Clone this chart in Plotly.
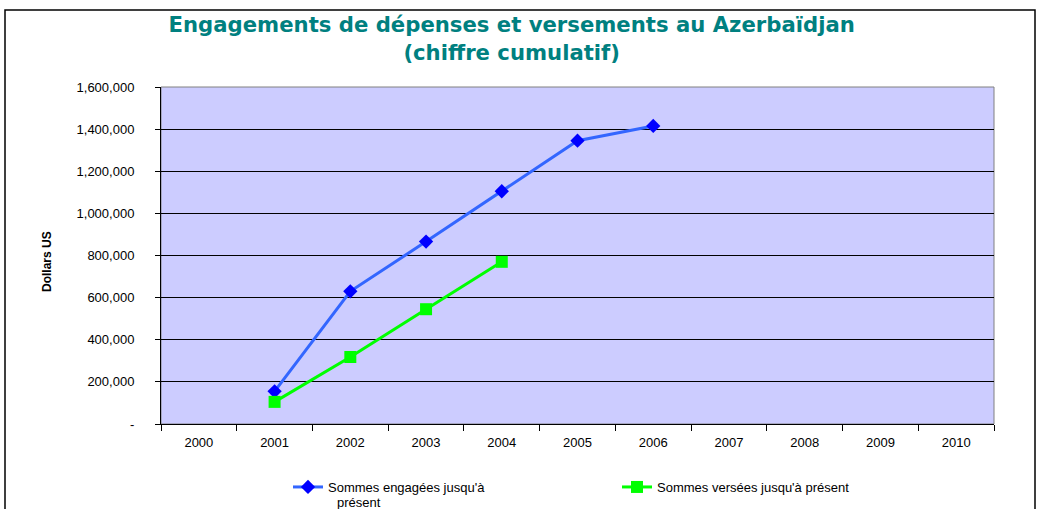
import plotly.graph_objects as go

years = ["2000", "2001", "2002", "2003", "2004", "2005", "2006", "2007", "2008", "2009", "2010"]
engaged_years = ["2001", "2002", "2003", "2004", "2005", "2006"]
engaged_values = [155000, 630000, 866000, 1105000, 1345000, 1415000]
paid_years = ["2001", "2002", "2003", "2004"]
paid_values = [105000, 318000, 545000, 770000]
y_tickvals = [0, 200000, 400000, 600000, 800000, 1000000, 1200000, 1400000, 1600000]
y_ticktext = ["-", "200,000", "400,000", "600,000", "800,000", "1,000,000", "1,200,000", "1,400,000", "1,600,000"]

W, H = 1040, 509
L, R, T, B = 161, 46, 87, 85
pw, ph = W - L - R, H - T - B

def px_x(x):
    return (x - L) / pw

def px_y(y):
    return (H - B - y) / ph

fig = go.Figure()
fig.add_trace(go.Scatter(
    x=engaged_years, y=engaged_values, mode="lines+markers",
    name="Sommes engagées jusqu'à",
    line=dict(color="#3366FF", width=3),
    marker=dict(symbol="diamond", size=11, color="#0000FF"),
    legend="legend",
))
fig.add_trace(go.Scatter(
    x=paid_years, y=paid_values, mode="lines+markers",
    name="Sommes versées jusqu'à présent",
    line=dict(color="#00FF00", width=3),
    marker=dict(symbol="square", size=12, color="#00FF00"),
    legend="legend2",
))

font_family = "Liberation Sans, Arial"
fig.update_layout(
    width=W, height=H,
    margin=dict(l=L, r=R, t=T, b=B, autoexpand=False),
    paper_bgcolor="white",
    plot_bgcolor="#CCCCFF",
    font=dict(family=font_family, size=13, color="black"),
    title=dict(
        text="<b>Engagements de dépenses et versements au Azerbaïdjan<br>(chiffre cumulatif)</b>",
        x=0.492, xanchor="center", yref="container", y=1 - 32 / H, yanchor="middle",
        font=dict(family="DejaVu Sans", size=21.2, color="#008080"),
    ),
    xaxis=dict(
        type="category", categoryorder="array", categoryarray=years,
        range=[-0.5, 10.5], tickson="boundaries", ticks="outside", ticklen=6,
        tickcolor="black", showline=True, linecolor="black", linewidth=1,
        showgrid=False, tickfont=dict(size=13), ticklabelstandoff=6,
        automargin=False,
    ),
    yaxis=dict(
        range=[0, 1600000], tickvals=y_tickvals, ticktext=y_ticktext,
        ticks="outside", ticklen=5, tickcolor="black",
        showline=True, linecolor="black", linewidth=1,
        showgrid=True, gridcolor="black", gridwidth=1, zeroline=False,
        tickfont=dict(size=13), ticklabelstandoff=18, automargin=False,
    ),
    legend=dict(
        orientation="h", x=px_x(288), xanchor="left", y=px_y(487), yanchor="middle",
        font=dict(size=13), bgcolor="rgba(0,0,0,0)",
    ),
    legend2=dict(
        orientation="h", x=px_x(617), xanchor="left", y=px_y(487), yanchor="middle",
        font=dict(size=13), bgcolor="rgba(0,0,0,0)",
    ),
    showlegend=True,
)

# y-axis title
fig.add_annotation(text="<b>Dollars US</b>", xref="paper", yref="paper",
                   x=px_x(47), y=px_y(262), textangle=-90, showarrow=False,
                   font=dict(size=12), xanchor="center", yanchor="middle")
# wrapped (cut off in the reference) second line of first legend entry
fig.add_annotation(text="présent", xref="paper", yref="paper",
                   x=px_x(335), y=px_y(502), showarrow=False,
                   font=dict(size=13), xanchor="left", yanchor="middle")

# plot area border
fig.add_shape(type="rect", xref="paper", yref="paper", x0=0, x1=1, y0=0, y1=1,
              line=dict(color="#808080", width=1), layer="below")
# outer chart frame
fig.add_shape(type="rect", xref="paper", yref="paper",
              x0=px_x(5), x1=px_x(1035), y0=px_y(530), y1=px_y(10),
              line=dict(color="black", width=1.5))

fig.write_html("out.html", config={"displayModeBar": False},
               post_script="document.body.style.margin='0px';")
